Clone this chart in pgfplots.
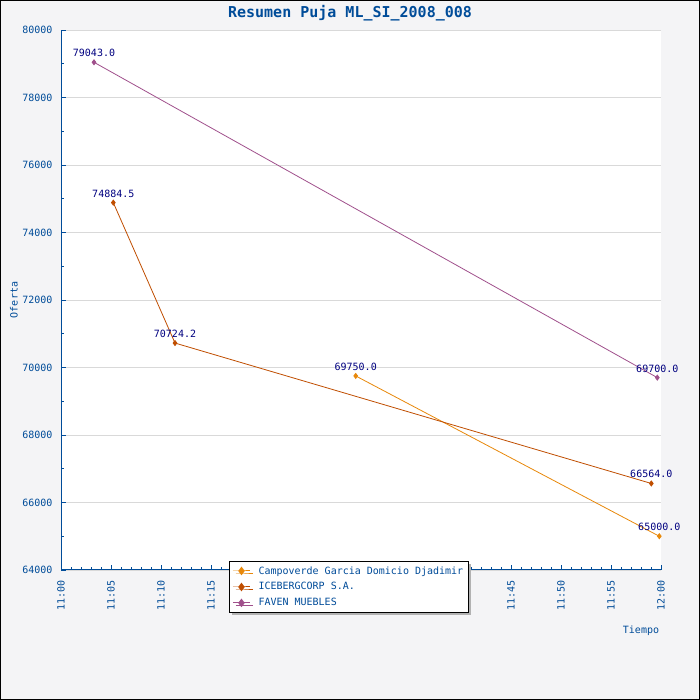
\documentclass[border=0pt]{standalone}
\usepackage{pgfplots}
\pgfplotsset{compat=1.18}
\usepackage{fontspec}
\setmainfont{DejaVu Sans Mono}
\usetikzlibrary{shadows}
\definecolor{bgc}{HTML}{F4F4F6}
\definecolor{axblue}{HTML}{004C99}
\definecolor{lblnavy}{HTML}{000080}
\definecolor{cOrange}{HTML}{E8880A}
\definecolor{cBrown}{HTML}{C04E00}
\definecolor{cPurple}{HTML}{A0508C}
\definecolor{gridc}{HTML}{D9D9D9}
\begin{document}
\begin{tikzpicture}[x=1pt,y=1pt]
\useasboundingbox (0,0) rectangle (700,700);
\fill[bgc] (0,0) rectangle (700,700);
\draw[black, line width=1pt] (0.5,0.5) rectangle (699.5,699.5);
\begin{axis}[
  at={(61pt,130pt)}, anchor=south west,
  scale only axis, width=600pt, height=540pt,
  xmin=0, xmax=60, ymin=64000, ymax=80000,
  clip=false,
  axis background/.style={fill=white},
  axis x line*=bottom, axis y line*=left,
  axis line style={axblue, line width=1pt, -},
  tick align=inside,
  major tick length=5pt, minor tick length=3pt,
  every tick/.style={axblue, line width=0.8pt},
  xtick={0,5,...,60},
  xticklabels={11:00,11:05,11:10,11:15,11:20,11:25,11:30,11:35,11:40,11:45,11:50,11:55,12:00},
  minor x tick num=4,
  ytick={64000,66000,...,80000},
  minor y tick num=1,
  scaled ticks=false,
  yticklabel style={/pgf/number format/fixed, /pgf/number format/1000 sep={}, xshift=-5pt},
  /pgf/number format/assume math mode=true,
  ticklabel style={font=\fontsize{10}{12}\selectfont, text=axblue},
  xticklabel style={rotate=90, anchor=east, xshift=-7pt},
  ymajorgrids,
  major grid style={gridc, line width=0.8pt},
  legend style={at={(axis description cs:0.28,0.0167)}, anchor=north west,
    draw=black, line width=0.9pt, fill=white,
    font=\fontsize{10}{12}\selectfont, text=axblue,
    drop shadow={shadow xshift=3pt, shadow yshift=-3pt, fill=black!30, opacity=1},
    row sep=3pt, inner xsep=3pt, inner ysep=3pt,
    /tikz/every odd column/.append style={column sep=6pt}},
  legend image post style={line width=1pt, mark size=3.5pt},
  legend cell align=left,
  nodes near coords,
  point meta=explicit symbolic,
  every node near coord/.append style={font=\fontsize{10}{12}\selectfont, text=lblnavy, anchor=south, inner sep=1pt, yshift=4pt},
]
\addplot[cOrange, line width=0.8pt, mark=diamond*, mark size=2.5pt, mark options={solid}]
  coordinates {(29.47,69750) [69750.0] (59.83,65000) [65000.0]};
\addlegendentry{Campoverde Garcia Domicio Djadimir}
\addplot[cBrown, line width=0.8pt, mark=diamond*, mark size=2.5pt]
  coordinates {(5.23,74884.5) [74884.5] (11.4,70724.2) [70724.2] (59.03,66564) [66564.0]};
\addlegendentry{ICEBERGCORP S.A.}
\addplot[cPurple, line width=0.8pt, mark=diamond*, mark size=2.5pt]
  coordinates {(3.3,79043) [79043.0] (59.63,69700) [69700.0]};
\addlegendentry{FAVEN MUEBLES}
\end{axis}
\node[font=\bfseries\fontsize{15}{17}\selectfont, text=axblue] at (350,687) {Resumen Puja ML\_SI\_2008\_008};
\node[rotate=90, font=\fontsize{10}{12}\selectfont, text=axblue] at (14,400) {Oferta};
\node[font=\fontsize{10}{12}\selectfont, text=axblue] at (641,69) {Tiempo};
\end{tikzpicture}
\end{document}
